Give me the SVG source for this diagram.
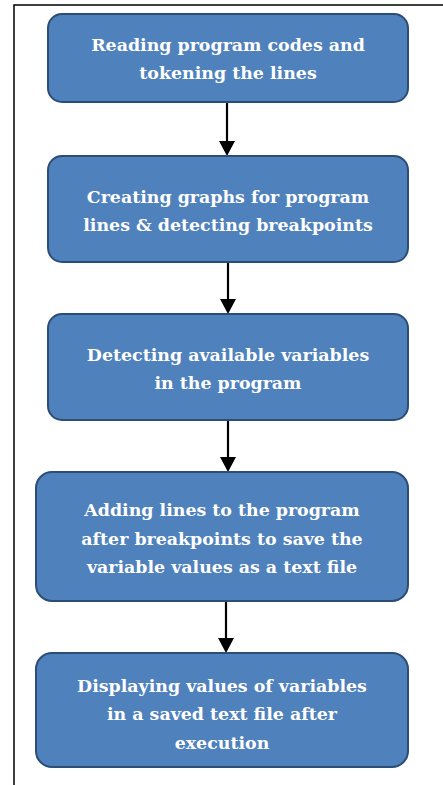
<svg xmlns="http://www.w3.org/2000/svg" width="443" height="785" viewBox="0 0 443 785">
  <defs>
    <style>
      .box { fill: #4F81BD; stroke: #2C4D75; stroke-width: 2; }
      .label { font-family: "DejaVu Serif", "Liberation Serif", serif; font-weight: bold; font-size: 17.4px; fill: #ffffff; text-anchor: middle; }
      .edge { stroke: #000; stroke-width: 2.2; fill: none; }
      .head { fill: #000; }
      .frame { stroke: #000; stroke-width: 1.5; fill: none; }
    </style>
  </defs>

  <rect width="443" height="785" fill="#ffffff"/>
  <path class="frame" d="M14,785 L14,5 L443,5"/>

  <g id="connectors">
    <line class="edge" x1="227" y1="102" x2="227" y2="141"/>
    <path class="head" d="M219,141 L235,141 L227,156 Z"/>
    <line class="edge" x1="228" y1="262" x2="228" y2="299"/>
    <path class="head" d="M220,299 L236,299 L228,314 Z"/>
    <line class="edge" x1="228" y1="420" x2="228" y2="457"/>
    <path class="head" d="M220,457 L236,457 L228,472 Z"/>
    <line class="edge" x1="226" y1="601" x2="226" y2="638"/>
    <path class="head" d="M218,638 L234,638 L226,653 Z"/>
  </g>

  <g id="node-read">
    <rect class="box" x="48" y="14" width="360" height="88" rx="14"/>
    <text class="label" x="228" y="51">Reading program codes and</text>
    <text class="label" x="228" y="79">tokening the lines</text>
  </g>

  <g id="node-graphs">
    <rect class="box" x="48" y="156" width="360" height="106" rx="14"/>
    <text class="label" x="228" y="203">Creating graphs for program</text>
    <text class="label" x="228" y="231">lines &amp; detecting breakpoints</text>
  </g>

  <g id="node-variables">
    <rect class="box" x="48" y="314" width="360" height="106" rx="14"/>
    <text class="label" x="228" y="361">Detecting available variables</text>
    <text class="label" x="228" y="389">in the program</text>
  </g>

  <g id="node-adding">
    <rect class="box" x="36" y="472" width="372" height="129" rx="16"/>
    <text class="label" x="222" y="516">Adding lines to the program</text>
    <text class="label" x="222" y="545">after breakpoints to save the</text>
    <text class="label" x="222" y="573">variable values as a text file</text>
  </g>

  <g id="node-display">
    <rect class="box" x="36" y="653" width="372" height="114" rx="16"/>
    <text class="label" x="222" y="692">Displaying values of variables</text>
    <text class="label" x="222" y="720">in a saved text file after</text>
    <text class="label" x="222" y="749">execution</text>
  </g>
</svg>
